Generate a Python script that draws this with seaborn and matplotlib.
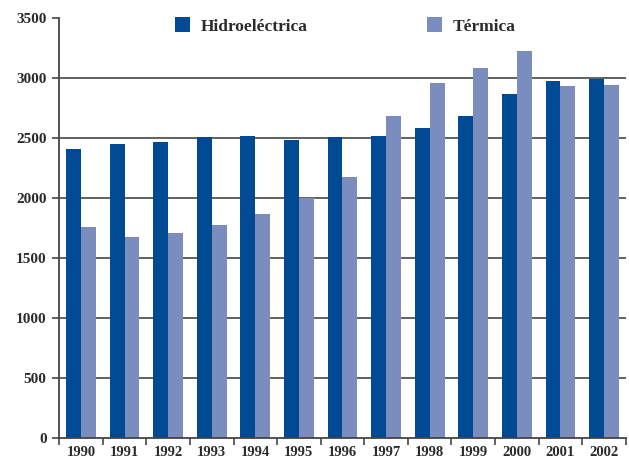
import pandas as pd
import matplotlib.pyplot as plt
import seaborn as sns
import numpy as np
from matplotlib.ticker import FixedLocator

# --- data ---
years = ['1990', '1991', '1992', '1993', '1994', '1995', '1996',
         '1997', '1998', '1999', '2000', '2001', '2002']
hidro = [2408, 2450, 2467, 2511, 2517, 2483, 2506, 2517, 2583, 2683, 2867, 2975, 2992]
termica = [1758, 1678, 1708, 1775, 1869, 2003, 2175, 2683, 2958, 3083, 3225, 2933, 2942]
series_names = ['Hidroeléctrica', 'Térmica']
y_ticks = [0, 500, 1000, 1500, 2000, 2500, 3000, 3500]

df = pd.DataFrame({
    'year': years * 2,
    'value': hidro + termica,
    'serie': [series_names[0]] * len(years) + [series_names[1]] * len(years),
})

sns.set_theme(style="white")
plt.rcParams['font.family'] = ['Liberation Serif', 'DejaVu Serif']
plt.rcParams['font.weight'] = 'bold'
txt = '#2b2b2b'

fig = plt.figure(figsize=(6.29, 4.62), dpi=100)
ax = fig.add_axes([0.094, 0.052, 0.901, 0.909])

palette = {series_names[0]: '#004a93', series_names[1]: '#7b8dbf'}
sns.barplot(data=df, x='year', y='value', hue='serie', palette=palette,
            width=0.68, gap=0, saturation=1, linewidth=0, ax=ax)
for p in ax.patches:
    p.set_zorder(3)
    p.set_linewidth(0)

# grid lines behind the bars (no line at 3500)
for v in y_ticks[1:-1]:
    ax.axhline(v, color='#555555', lw=1.3, zorder=1)

ax.set_ylim(0, 3500)
ax.set_xlim(-0.5, len(years) - 0.5)
ax.set_yticks(y_ticks)
ax.set_yticklabels([str(v) for v in y_ticks], fontsize=11, color=txt)
ax.set_xticks(range(len(years)))
ax.set_xticklabels(years, fontsize=10.5, color=txt)
ax.tick_params(axis='x', which='major', length=0, pad=6)
ax.xaxis.set_minor_locator(FixedLocator(np.arange(-0.5, len(years), 1.0)))
ax.tick_params(axis='x', which='minor', length=5, width=1.2, color='#444444', bottom=True)
ax.tick_params(axis='y', length=5, width=1.2, color='#444444', left=True, pad=4)
ax.set_xlabel('')
ax.set_ylabel('')

for s in ['top', 'right']:
    ax.spines[s].set_visible(False)
for s in ['left', 'bottom']:
    ax.spines[s].set_color('#444444')
    ax.spines[s].set_linewidth(1.3)
    ax.spines[s].set_zorder(4)

ax.legend(loc='upper center', bbox_to_anchor=(0.505, 1.04), ncol=2, frameon=False,
          fontsize=12.5, handlelength=0.85, handleheight=1.0, handletextpad=0.6,
          columnspacing=6.9, labelcolor=txt)

plt.savefig('out.png', dpi=100)
